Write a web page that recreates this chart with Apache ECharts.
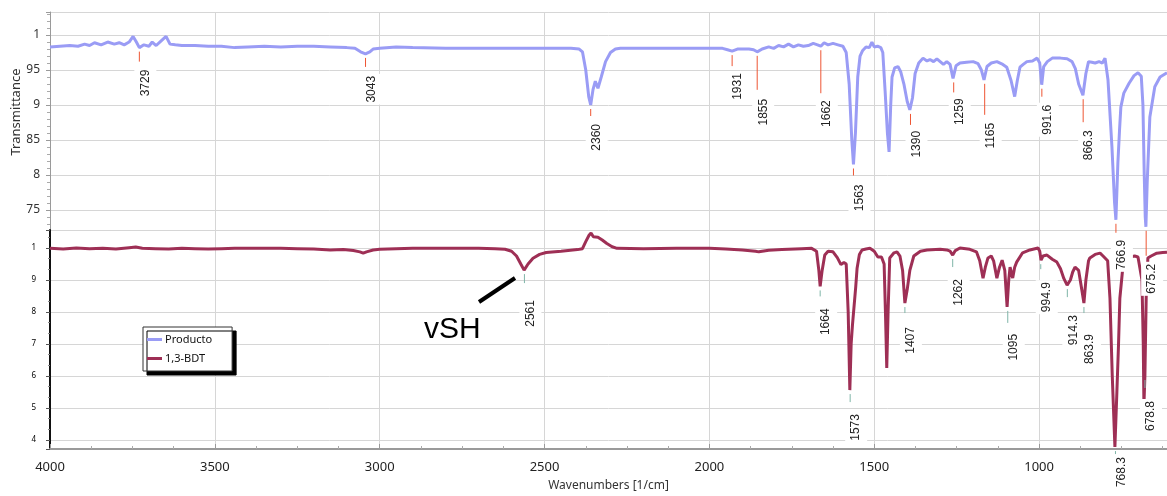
<!DOCTYPE html>
<html>
<head>
<meta charset="utf-8">
<script src="https://cdn.jsdelivr.net/npm/echarts@6/dist/echarts.min.js"></script>
<style>
html, body { margin: 0; padding: 0; background: #fff; }
#chart { width: 1167px; height: 496px; }
</style>
</head>
<body>
<div id="chart"></div>
<script>
// IR spectra: Producto (top panel) vs 1,3-BDT (bottom panel)
const productoSpectrum = [
    [4000, 0.983], [3970, 0.984], [3940, 0.985], [3915, 0.984], [3895, 0.987], [3880, 0.985], [3865, 0.989],
    [3845, 0.986], [3825, 0.990], [3805, 0.987], [3790, 0.989], [3775, 0.986], [3760, 0.990], [3748, 0.998],
    [3738, 0.990], [3729, 0.982], [3715, 0.986], [3700, 0.984], [3690, 0.990], [3678, 0.985], [3662, 0.992],
    [3648, 0.998], [3636, 0.987], [3620, 0.986], [3600, 0.985], [3560, 0.985], [3520, 0.984], [3480, 0.984],
    [3440, 0.982], [3400, 0.983], [3350, 0.984], [3300, 0.983], [3250, 0.984], [3200, 0.984], [3150, 0.983],
    [3100, 0.982], [3075, 0.981], [3058, 0.976], [3043, 0.973], [3030, 0.976], [3020, 0.980], [3000, 0.981],
    [2950, 0.983], [2900, 0.982], [2800, 0.981], [2700, 0.981], [2600, 0.981], [2500, 0.981], [2420, 0.981],
    [2395, 0.980], [2385, 0.976], [2375, 0.950], [2366, 0.912], [2360, 0.900], [2353, 0.922], [2346, 0.934],
    [2338, 0.924], [2328, 0.940], [2315, 0.962], [2300, 0.975], [2285, 0.980], [2270, 0.981], [2200, 0.981],
    [2100, 0.981], [2000, 0.981], [1960, 0.981], [1945, 0.979], [1931, 0.977], [1915, 0.980], [1880, 0.980],
    [1866, 0.979], [1855, 0.976], [1840, 0.980], [1820, 0.983], [1805, 0.981], [1790, 0.985], [1775, 0.983],
    [1760, 0.987], [1745, 0.983], [1730, 0.986], [1715, 0.984], [1700, 0.985], [1685, 0.988], [1672, 0.986],
    [1662, 0.984], [1652, 0.989], [1640, 0.986], [1625, 0.988], [1610, 0.986], [1595, 0.984], [1585, 0.975],
    [1576, 0.930], [1568, 0.850], [1563, 0.815], [1557, 0.860], [1550, 0.940], [1543, 0.970], [1535, 0.978],
    [1525, 0.983], [1515, 0.982], [1507, 0.990], [1500, 0.983], [1490, 0.984], [1480, 0.982], [1474, 0.975],
    [1467, 0.920], [1460, 0.860], [1455, 0.833], [1450, 0.900], [1446, 0.940], [1438, 0.953], [1428, 0.955],
    [1420, 0.948], [1410, 0.930], [1400, 0.905], [1392, 0.893], [1384, 0.910], [1376, 0.945], [1365, 0.960],
    [1352, 0.967], [1340, 0.963], [1331, 0.965], [1320, 0.962], [1310, 0.966], [1300, 0.962], [1290, 0.958],
    [1280, 0.962], [1270, 0.958], [1261, 0.938], [1252, 0.956], [1240, 0.960], [1220, 0.961], [1200, 0.962],
    [1185, 0.959], [1175, 0.950], [1167, 0.936], [1158, 0.955], [1145, 0.960], [1128, 0.962], [1110, 0.958],
    [1098, 0.954], [1085, 0.935], [1074, 0.912], [1066, 0.935], [1058, 0.954], [1048, 0.958], [1037, 0.962],
    [1020, 0.963], [1006, 0.967], [998, 0.960], [992, 0.929], [986, 0.955], [975, 0.962], [960, 0.967],
    [935, 0.967], [915, 0.966], [900, 0.962], [890, 0.952], [880, 0.930], [867, 0.914], [858, 0.945],
    [850, 0.962], [840, 0.961], [830, 0.960], [818, 0.962], [808, 0.960], [800, 0.967], [791, 0.936],
    [779, 0.840], [771, 0.760], [767, 0.736], [761, 0.817], [756, 0.864], [752, 0.897], [743, 0.917],
    [727, 0.931], [712, 0.942], [700, 0.946], [690, 0.941], [685, 0.900], [681, 0.800], [678, 0.740],
    [676, 0.726], [672, 0.790], [664, 0.883], [649, 0.926], [633, 0.940], [612, 0.946]
];

const bdtSpectrum = [
    [4000, 0.999], [3960, 0.997], [3920, 1.000], [3880, 0.998], [3840, 0.999], [3800, 0.997], [3760, 1.001],
    [3740, 1.003], [3720, 0.999], [3680, 0.998], [3640, 0.997], [3600, 0.999], [3560, 0.998], [3520, 0.997],
    [3480, 0.998], [3440, 0.999], [3400, 0.999], [3350, 0.999], [3300, 0.999], [3250, 0.998], [3200, 0.997],
    [3150, 0.994], [3110, 0.995], [3080, 0.992], [3060, 0.988], [3050, 0.984], [3040, 0.988], [3020, 0.994],
    [3000, 0.996], [2950, 0.998], [2900, 0.999], [2800, 0.999], [2700, 0.999], [2650, 0.998], [2620, 0.996],
    [2600, 0.990], [2585, 0.975], [2572, 0.950], [2562, 0.931], [2550, 0.950], [2535, 0.968], [2515, 0.980],
    [2495, 0.986], [2450, 0.990], [2400, 0.995], [2385, 0.998], [2375, 1.020], [2365, 1.040], [2359, 1.047],
    [2352, 1.035], [2346, 1.030], [2338, 1.034], [2325, 1.025], [2311, 1.014], [2295, 1.004], [2280, 0.999],
    [2200, 0.998], [2100, 0.999], [2000, 0.999], [1950, 0.997], [1900, 0.994], [1860, 0.990], [1850, 0.988],
    [1820, 0.993], [1780, 0.995], [1720, 0.998], [1690, 0.999], [1675, 0.990], [1668, 0.930], [1664, 0.880],
    [1658, 0.930], [1650, 0.978], [1640, 0.990], [1625, 0.988], [1612, 0.970], [1601, 0.948], [1592, 0.955],
    [1585, 0.950], [1579, 0.800], [1574, 0.556], [1570, 0.700], [1566, 0.760], [1561, 0.762], [1556, 0.880],
    [1552, 0.937], [1545, 0.980], [1537, 0.994], [1525, 0.997], [1513, 0.999], [1500, 0.990], [1489, 0.972],
    [1478, 0.972], [1470, 0.950], [1466, 0.800], [1462, 0.625], [1458, 0.800], [1453, 0.969], [1440, 0.985],
    [1431, 0.988], [1422, 0.975], [1414, 0.930], [1407, 0.828], [1400, 0.870], [1392, 0.930], [1380, 0.975],
    [1360, 0.990], [1340, 0.994], [1300, 0.996], [1280, 0.994], [1270, 0.990], [1262, 0.978], [1254, 0.992],
    [1240, 1.000], [1210, 0.996], [1190, 0.988], [1180, 0.960], [1170, 0.906], [1163, 0.940], [1155, 0.969],
    [1145, 0.975], [1138, 0.960], [1128, 0.906], [1120, 0.940], [1112, 0.962], [1104, 0.930], [1097, 0.816],
    [1092, 0.900], [1088, 0.940], [1080, 0.906], [1074, 0.940], [1068, 0.956], [1050, 0.985], [1028, 0.994],
    [1003, 1.000], [998, 0.990], [994, 0.962], [988, 0.975], [976, 0.978], [960, 0.965], [946, 0.956],
    [935, 0.935], [925, 0.905], [915, 0.884], [905, 0.900], [898, 0.925], [891, 0.940], [880, 0.930],
    [872, 0.880], [864, 0.828], [858, 0.900], [850, 0.960], [846, 0.969], [830, 0.980], [815, 0.984],
    [806, 0.975], [800, 0.972], [792, 0.960], [785, 0.843], [778, 0.600], [770, 0.378], [764, 0.550],
    [759, 0.700], [755, 0.843], [745, 0.950], [735, 0.966], [724, 0.972], [710, 0.975], [700, 0.972],
    [694, 0.969], [688, 0.900], [684, 0.700], [682, 0.509], [679, 0.600], [675, 0.850], [670, 0.969],
    [660, 0.975], [643, 0.984], [625, 0.986], [612, 0.987]
];

// peak labels (wavenumber text as printed by the instrument software)
const productoPeaks = ['3729', '3043', '2360', '1931', '1855', '1662', '1563', '1390', '1259', '1165', '991.6', '866.3', '766.9', '675.2'];
const bdtPeaks = ['2561', '1664', '1573', '1407', '1262', '1095', '994.9', '914.3', '863.9', '768.3', '678.8'];

// y tick labels as shown (the software drops the leading "0.")
const productoTickValues = [0.75, 0.8, 0.85, 0.9, 0.95, 1];
const productoTickLabels = ['75', '8', '85', '9', '95', '1'];
const bdtTickValues = [0.4, 0.5, 0.6, 0.7, 0.8, 0.9, 1];
const bdtTickLabels = ['4', '5', '6', '7', '8', '9', '1'];
const wavenumberTicks = [1000, 1500, 2000, 2500, 3000, 3500, 4000];

// label layout (px): marker tick length and distance from the curve to the text
const productoTickLen = [10, 9, 7, 11, 34, 43, 7, 11, 10, 31, 8, 23, 9, 25];
const productoTextDrop = [20, 20, 17, 20, 45, 52, 18, 19, 18, 41, 18, 33, 18, 35];
const bdtTickLen = [9, 6, 8, 6, 8, 12, 5, 8, 6, 3, 8];
const bdtTextDrop = [28, 20, 22, 22, 22, 25, 20, 28, 29, 8, 23];

const FONT = '"Noto Sans", "DejaVu Sans", sans-serif';
const COLOR_PRODUCTO = '#9a9cf5';
const COLOR_BDT = '#9e2f55';

function valueAt(spectrum, wn) {
    let best = spectrum[0];
    spectrum.forEach(p => {
        if (Math.abs(p[0] - wn) < Math.abs(best[0] - wn)) best = p;
    });
    return best[1];
}

function tickFormatter(values, labels) {
    return v => {
        const i = values.findIndex(t => Math.abs(t - v) < 1e-6);
        return i >= 0 ? labels[i] : '';
    };
}

// vertical peak label: small marker under the band, then rotated text in a white box
function peakRenderer(labels, tickLen, textDrop, tickColor) {
    return function (params, api) {
        const i = api.value(2);
        const p = api.coord([api.value(0), api.value(1)]);
        return {
            type: 'group',
            children: [
                {
                    type: 'text',
                    x: p[0] + 6,
                    y: p[1] + textDrop[i],
                    rotation: Math.PI / 2,
                    style: {
                        text: labels[i],
                        fill: '#222',
                        font: '12px "Liberation Sans", Arial, sans-serif',
                        align: 'right',
                        verticalAlign: 'middle',
                        backgroundColor: '#fff',
                        padding: [7, 2, 3, 2],
                    },
                },
                {
                    type: 'line',
                    shape: { x1: p[0], y1: p[1] + 4, x2: p[0], y2: p[1] + 4 + tickLen[i] },
                    style: { stroke: tickColor, lineWidth: 1 },
                },
            ],
        };
    };
}

function peakData(spectrum, labels) {
    return labels.map((s, i) => [Number(s), valueAt(spectrum, Number(s)), i]);
}

const gridLine = { lineStyle: { color: '#d6d6d6', width: 1 } };

const chart = echarts.init(document.getElementById('chart'), null, { renderer: 'canvas' });
chart.setOption({
    animation: false,
    textStyle: { fontFamily: FONT },
    grid: [
        { left: 50, right: 0, top: 12, height: 218, outerBoundsMode: 'none', containLabel: false },
        { left: 50, right: 0, top: 230, height: 219, outerBoundsMode: 'none', containLabel: false },
    ],
    xAxis: [
        {
            type: 'value', gridIndex: 0, inverse: true, min: 612, max: 4000, splitNumber: 7,
            axisLine: { show: false }, axisTick: { show: false }, axisLabel: { show: false },
            splitLine: gridLine,
        },
        {
            type: 'value', gridIndex: 1, inverse: true, min: 612, max: 4000, splitNumber: 7,
            name: 'Wavenumbers [1/cm]', nameLocation: 'middle', nameGap: 31,
            nameTextStyle: { color: '#333', fontSize: 12, fontFamily: FONT },
            axisLine: { lineStyle: { color: '#9a9a9a', width: 2 } },
            axisTick: { inside: true, length: 5, lineStyle: { color: '#9a9a9a' } },
            minorTick: { show: true, splitNumber: 4, length: 3, lineStyle: { color: '#aaa' } },
            axisLabel: {
                color: '#222', fontSize: 13, margin: 12, fontFamily: FONT,
                showMinLabel: false,
                formatter: v => wavenumberTicks.includes(v) ? String(v) : '',
            },
            splitLine: gridLine,
        },
    ],
    yAxis: [
        {
            type: 'value', gridIndex: 0, min: 0.7214, max: 1.0329, splitNumber: 6,
            axisLine: { show: true, lineStyle: { color: '#9a9a9a', width: 1 } },
            axisTick: { show: true, length: 4, lineStyle: { color: '#9a9a9a' } },
            minorTick: { show: true, splitNumber: 5, length: 3, lineStyle: { color: '#aaa' } },
            axisLabel: { color: '#333', fontSize: 12, margin: 10, formatter: tickFormatter(productoTickValues, productoTickLabels) },
            splitLine: gridLine,
        },
        {
            type: 'value', gridIndex: 1, min: 0.3719, max: 1.0563, splitNumber: 7,
            axisLine: { show: true, lineStyle: { color: '#111', width: 2 } },
            axisTick: { show: true, length: 4, lineStyle: { color: '#555' } },
            minorTick: { show: true, splitNumber: 3, length: 2, lineStyle: { color: '#888' } },
            axisLabel: { color: '#000', fontSize: 8, margin: 14, formatter: tickFormatter(bdtTickValues, bdtTickLabels) },
            splitLine: gridLine,
        },
    ],
    legend: {
        data: ['Producto', '1,3-BDT'],
        orient: 'vertical',
        left: 143,
        top: 327,
        icon: 'rect',
        itemWidth: 15,
        itemHeight: 3,
        itemGap: 8,
        padding: [7, 20, 7, 4],
        backgroundColor: '#fff',
        borderColor: '#333',
        borderWidth: 1,
        borderRadius: 0,
        shadowColor: '#000',
        shadowOffsetX: 4,
        shadowOffsetY: 4,
        shadowBlur: 0,
        textStyle: { color: '#111', fontSize: 11, fontFamily: FONT, padding: [0, 0, 0, -2] },
    },
    graphic: [
        {
            type: 'text', x: 16, y: 112, rotation: Math.PI / 2,
            style: { text: 'Transmittance', align: 'center', verticalAlign: 'middle', font: '13px ' + FONT, fill: '#333' },
        },
        {
            type: 'line', z: 10,
            shape: { x1: 479, y1: 302, x2: 515, y2: 278 },
            style: { stroke: '#000', lineWidth: 4 },
        },
        {
            type: 'text', x: 424, y: 345, z: 10,
            style: { text: 'vSH', font: '30px "Liberation Sans", Arial, sans-serif', fill: '#000', verticalAlign: 'bottom' },
        },
    ],
    series: [
        {
            name: 'Producto', type: 'line', xAxisIndex: 0, yAxisIndex: 0,
            data: productoSpectrum, showSymbol: false, symbol: 'none', z: 3,
            lineStyle: { color: COLOR_PRODUCTO, width: 3 },
            itemStyle: { color: COLOR_PRODUCTO },
        },
        {
            name: '1,3-BDT', type: 'line', xAxisIndex: 1, yAxisIndex: 1,
            data: bdtSpectrum, showSymbol: false, symbol: 'none', z: 3,
            lineStyle: { color: COLOR_BDT, width: 3 },
            itemStyle: { color: COLOR_BDT },
        },
        {
            type: 'custom', xAxisIndex: 0, yAxisIndex: 0, z: 6, silent: true,
            data: peakData(productoSpectrum, productoPeaks),
            renderItem: peakRenderer(productoPeaks, productoTickLen, productoTextDrop, '#ee5533'),
        },
        {
            type: 'custom', xAxisIndex: 1, yAxisIndex: 1, z: 6, silent: true,
            data: peakData(bdtSpectrum, bdtPeaks),
            renderItem: peakRenderer(bdtPeaks, bdtTickLen, bdtTextDrop, '#7fb5a8'),
        },
    ],
});
</script>
</body>
</html>
